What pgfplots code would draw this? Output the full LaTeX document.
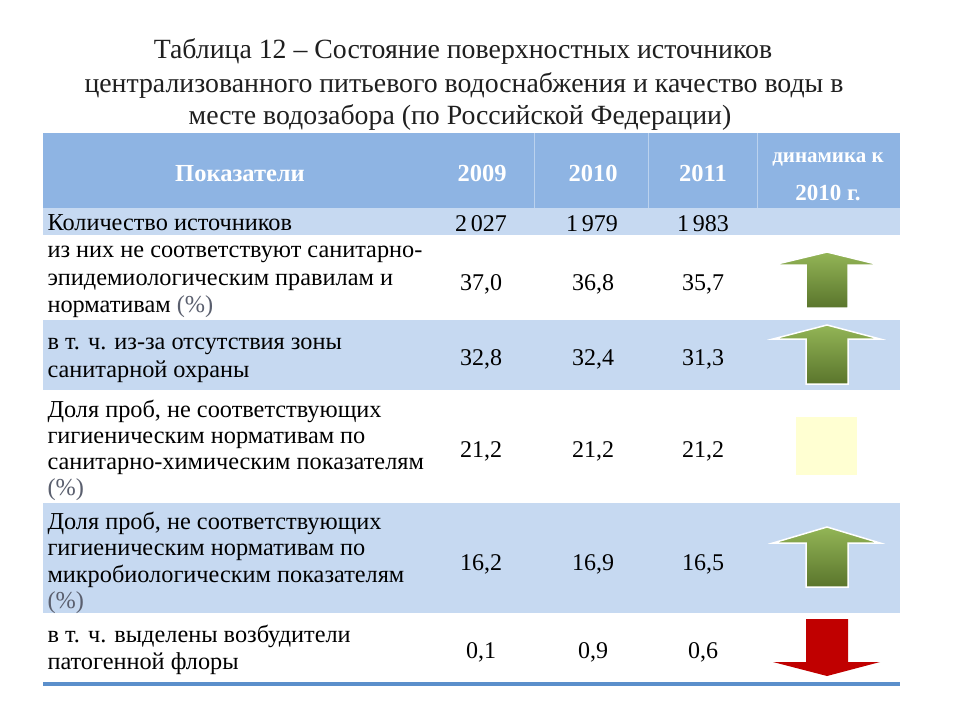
\documentclass[border=0pt]{standalone}
\usepackage{fontspec}
\setmainfont{Liberation Serif}
\usepackage{pgfplots}
\pgfplotsset{compat=1.18}

\definecolor{headblue}{HTML}{8EB4E3}
\definecolor{rowblue}{HTML}{C6D9F1}
\definecolor{lineblue}{HTML}{5B8FCB}
\definecolor{grntop}{HTML}{93B556}
\definecolor{grnbot}{HTML}{5A752C}
\definecolor{arrred}{HTML}{C00000}
\definecolor{pale}{HTML}{FFFFD2}
\definecolor{pct}{HTML}{5A5F6E}

\newcommand{\bodyfont}{\fontsize{24.3}{27}\selectfont}
\newcommand{\numfont}{\fontsize{24}{27}\selectfont}
\newcommand{\ttlfont}{\fontsize{27.8}{32}\selectfont}

\begin{document}
\begin{tikzpicture}
\begin{axis}[
    scale only axis,
    width=960pt, height=720pt,
    xmin=0, xmax=960, ymin=0, ymax=720,
    y dir=reverse,
    hide axis,
  ]
  % background
  \addplot[fill=white, draw=none] coordinates {(0,0) (960,0) (960,720) (0,720)} -- cycle;

  % header and banded rows
  \addplot[fill=headblue, draw=none] coordinates {(43,133) (900,133) (900,208) (43,208)} -- cycle;
  \addplot[fill=rowblue, draw=none] coordinates {(43,208) (900,208) (900,235) (43,235)} -- cycle;
  \addplot[fill=rowblue, draw=none] coordinates {(43,320) (900,320) (900,390) (43,390)} -- cycle;
  \addplot[fill=rowblue, draw=none] coordinates {(43,503) (900,503) (900,613) (43,613)} -- cycle;
  % faint column dividers in the header
  \addplot[white!40!headblue, line width=1pt] coordinates {(534,133) (534,208)};
  \addplot[white!40!headblue, line width=1pt] coordinates {(648,133) (648,208)};
  \addplot[white!40!headblue, line width=1pt] coordinates {(757,133) (757,208)};
  % bottom rule
  \addplot[lineblue, line width=4pt] coordinates {(43,684) (900,684)};

  % up arrows (rows 2, 3, 5)
  \addplot[top color=grntop, bottom color=grnbot, draw=white, line width=1.5pt]
    coordinates {(827,252) (880,265) (848,265) (848,308) (806,308) (806,265) (773,265)} -- cycle;
  \addplot[top color=grntop, bottom color=grnbot, draw=white, line width=1.5pt]
    coordinates {(827,325) (880,339) (848,339) (848,384) (806,384) (806,339) (773,339)} -- cycle;
  \addplot[top color=grntop, bottom color=grnbot, draw=white, line width=1.5pt]
    coordinates {(827,527) (880,543) (848,543) (848,587) (806,587) (806,543) (773,543)} -- cycle;
  % no change (row 4)
  \addplot[fill=pale, draw=none] coordinates {(796,417) (857,417) (857,475) (796,475)} -- cycle;
  % down arrow (row 6)
  \addplot[fill=arrred, draw=none]
    coordinates {(806,619) (848,619) (848,662) (880,662) (827,676) (773,662) (806,662)} -- cycle;

  % title
  \node[anchor=base, font=\ttlfont, text=black!88] at (axis cs:463,58)
    {Таблица 12 – Состояние поверхностных источников};
  \node[anchor=base, font=\ttlfont, text=black!88] at (axis cs:464,92)
    {централизованного питьевого водоснабжения и качество воды в};
  \node[anchor=base, font=\ttlfont, text=black!88] at (axis cs:460,124)
    {месте водозабора (по Российской Федерации)};

  % header text
  \node[anchor=base, font=\fontsize{24.5}{27}\bfseries, text=white] at (axis cs:240,181) {Показатели};
  \node[anchor=base, font=\fontsize{24.5}{27}\bfseries, text=white] at (axis cs:482,181) {2009};
  \node[anchor=base, font=\fontsize{24.5}{27}\bfseries, text=white] at (axis cs:593,181) {2010};
  \node[anchor=base, font=\fontsize{24.5}{27}\bfseries, text=white] at (axis cs:703,181) {2011};
  \node[anchor=base, font=\fontsize{21}{24}\bfseries, text=white] at (axis cs:828,162) {динамика к};
  \node[anchor=base, font=\fontsize{23}{26}\bfseries, text=white] at (axis cs:828,200) {2010 г.};

  % row labels
  \node[anchor=base west, font=\bodyfont] at (axis cs:44,230) {Количество источников};
  \node[anchor=base west, font=\bodyfont] at (axis cs:44,257) {из них не соответствуют санитарно-};
  \node[anchor=base west, font=\bodyfont] at (axis cs:44,285) {эпидемиологическим правилам и};
  \node[anchor=base west, font=\bodyfont] at (axis cs:44,312) {нормативам \textcolor{pct}{(\%)}};
  \node[anchor=base west, font=\bodyfont] at (axis cs:44,349) {в т. ч. из-за отсутствия зоны};
  \node[anchor=base west, font=\bodyfont] at (axis cs:44,377) {санитарной охраны};
  \node[anchor=base west, font=\bodyfont] at (axis cs:44,417) {Доля проб, не соответствующих};
  \node[anchor=base west, font=\bodyfont] at (axis cs:44,443) {гигиеническим нормативам по};
  \node[anchor=base west, font=\bodyfont] at (axis cs:44,469) {санитарно-химическим показателям};
  \node[anchor=base west, font=\bodyfont, text=pct] at (axis cs:44,495) {(\%)};
  \node[anchor=base west, font=\bodyfont] at (axis cs:44,529) {Доля проб, не соответствующих};
  \node[anchor=base west, font=\bodyfont] at (axis cs:44,555) {гигиеническим нормативам по};
  \node[anchor=base west, font=\bodyfont] at (axis cs:44,582) {микробиологическим показателям};
  \node[anchor=base west, font=\bodyfont, text=pct] at (axis cs:44,608) {(\%)};
  \node[anchor=base west, font=\bodyfont] at (axis cs:44,642) {в т. ч. выделены возбудители};
  \node[anchor=base west, font=\bodyfont] at (axis cs:44,669) {патогенной флоры};

  % values: 2009, 2010, 2011
  \node[anchor=base, font=\numfont] at (axis cs:481,231) {2\,027};
  \node[anchor=base, font=\numfont] at (axis cs:592,231) {1\,979};
  \node[anchor=base, font=\numfont] at (axis cs:703,231) {1\,983};
  \node[anchor=base, font=\numfont] at (axis cs:481,290) {37,0};
  \node[anchor=base, font=\numfont] at (axis cs:593,290) {36,8};
  \node[anchor=base, font=\numfont] at (axis cs:703,290) {35,7};
  \node[anchor=base, font=\numfont] at (axis cs:481,365) {32,8};
  \node[anchor=base, font=\numfont] at (axis cs:593,365) {32,4};
  \node[anchor=base, font=\numfont] at (axis cs:703,365) {31,3};
  \node[anchor=base, font=\numfont] at (axis cs:481,457) {21,2};
  \node[anchor=base, font=\numfont] at (axis cs:593,457) {21,2};
  \node[anchor=base, font=\numfont] at (axis cs:703,457) {21,2};
  \node[anchor=base, font=\numfont] at (axis cs:481,570) {16,2};
  \node[anchor=base, font=\numfont] at (axis cs:593,570) {16,9};
  \node[anchor=base, font=\numfont] at (axis cs:703,570) {16,5};
  \node[anchor=base, font=\numfont] at (axis cs:481,658) {0,1};
  \node[anchor=base, font=\numfont] at (axis cs:593,658) {0,9};
  \node[anchor=base, font=\numfont] at (axis cs:703,658) {0,6};
\end{axis}
\end{tikzpicture}
\end{document}
